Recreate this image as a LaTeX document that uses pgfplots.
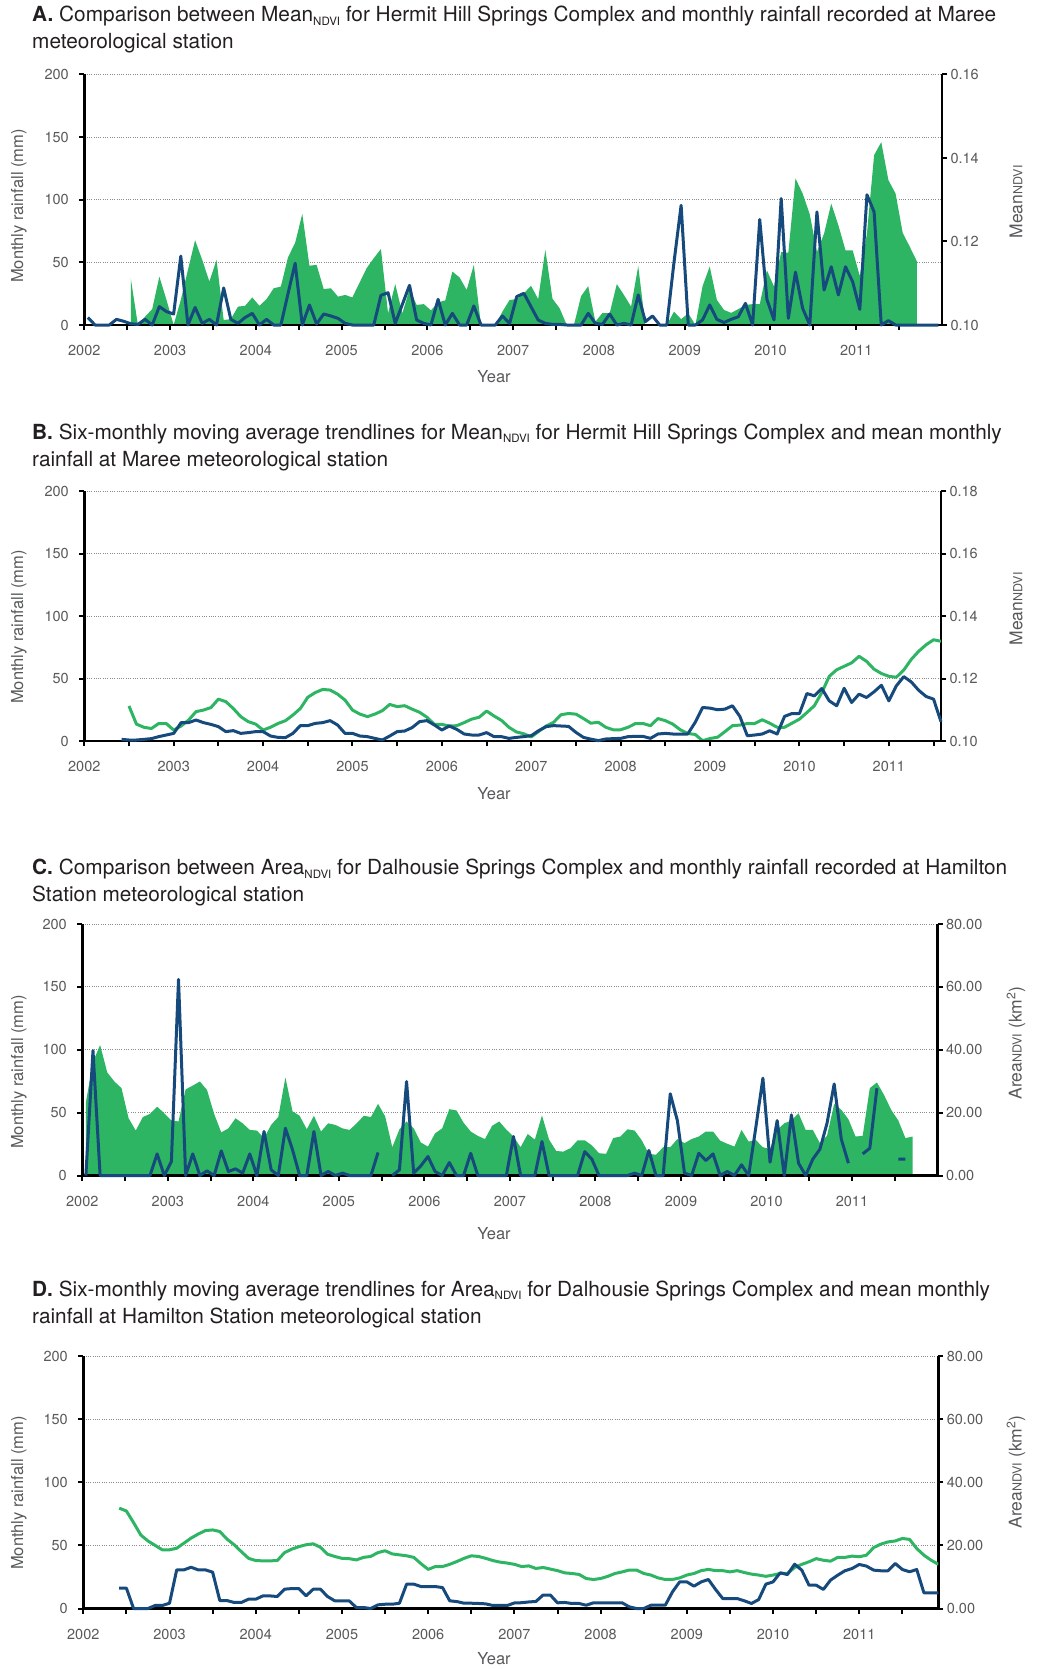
\documentclass[border=0pt]{standalone}
\usepackage{pgfplots}
\pgfplotsset{compat=1.18}
\usepackage{pgfplotstable}
\usepackage{fontspec}
\setmainfont{TeX Gyre Heros}
\definecolor{ngreen}{HTML}{2DB563}
\definecolor{nblue}{HTML}{174A7C}
\definecolor{tgrey}{HTML}{58595B}
\definecolor{ttitle}{HTML}{231F20}
\newcommand\tickfont{\fontsize{14.5}{14.5}\selectfont}
\newcommand\labfont{\fontsize{16.5}{16.5}\selectfont}
\newcommand\rlabfont{\fontsize{17.5}{17.5}\selectfont}
\newcommand\titlefont{\fontsize{20.8}{20.8}\selectfont}
\newcommand\sub[1]{\raisebox{-0.35ex}{\fontsize{11.5}{11.5}\selectfont #1}}
\newcommand\smallndvi{{\fontsize{12.5}{12.5}\selectfont NDVI}}

\pgfplotstableread[row sep=\\]{i v\\0 6\\1 0\\2 0\\3 0\\4 4.5\\5 3\\6 1\\7 0.5\\8 4.5\\9 0\\10 14.7\\11 10.7\\12 8.8\\13 55\\14 0\\15 14\\16 1.3\\17 4.5\\18 0\\19 29.6\\20 4.5\\21 1.3\\22 6\\23 9.3\\24 0\\25 4.5\\26 0\\27 0\\28 25\\29 49.3\\30 0\\31 16\\32 0.8\\33 8.8\\34 7.2\\35 5.3\\36 1.3\\37 0\\38 0\\39 0\\40 0\\41 23.7\\42 25.8\\43 1.3\\44 16.5\\45 31.7\\46 4\\47 1.3\\48 0\\49 20.5\\50 0\\51 9.3\\52 0\\53 0\\54 15.2\\55 0\\56 0\\57 0\\58 7.2\\59 1.3\\60 22.7\\61 25.3\\62 14.6\\63 4\\64 1.3\\65 0.5\\66 0.5\\67 0\\68 0\\69 0\\70 9.3\\71 1.3\\72 0.5\\73 8.8\\74 0\\75 1.3\\76 0\\77 24\\78 2.7\\79 7.2\\80 0\\81 0\\82 50\\83 95.6\\84 0\\85 0\\86 4\\87 16\\88 4.5\\89 2\\90 4.5\\91 6.6\\92 17.3\\93 0\\94 84.2\\95 20.5\\96 4\\97 101\\98 5.3\\99 42.2\\100 13.3\\101 0\\102 90.3\\103 27.9\\104 46.5\\105 24\\106 46.5\\107 34.5\\108 12.5\\109 104\\110 90.3\\111 0\\112 3.5\\113 0\\114 0\\115 0\\116 0\\117 0\\118 0\\119 0\\}\Arain

\pgfplotstableread[row sep=\\]{i v\\6 0.1112\\7 0.1000\\8 0.1020\\9 0.1038\\10 0.1116\\11 0.1060\\12 0.1000\\13 0.1060\\14 0.1132\\15 0.1203\\16 0.1156\\17 0.1104\\18 0.1156\\19 0.1012\\20 0.1014\\21 0.1044\\22 0.1046\\23 0.1066\\24 0.1046\\25 0.1062\\26 0.1088\\27 0.1092\\28 0.1162\\29 0.1197\\30 0.1266\\31 0.1142\\32 0.1144\\33 0.1086\\34 0.1088\\35 0.1068\\36 0.1072\\37 0.1066\\38 0.1101\\39 0.1136\\40 0.1160\\41 0.1182\\42 0.1028\\43 0.1098\\44 0.1028\\45 0.1086\\46 0.1048\\47 0.1050\\48 0.1035\\49 0.1054\\50 0.1059\\51 0.1128\\52 0.1114\\53 0.1084\\54 0.1144\\55 0.1000\\56 0.1000\\57 0.1000\\58 0.1032\\59 0.1060\\60 0.1062\\61 0.1076\\62 0.1094\\63 0.1062\\64 0.1180\\65 0.1063\\66 0.1040\\67 0.1000\\68 0.1000\\69 0.1069\\70 0.1093\\71 0.1008\\72 0.1029\\73 0.1028\\74 0.1098\\75 0.1072\\76 0.1044\\77 0.1141\\78 0.1000\\79 0.1000\\80 0.1000\\81 0.1000\\82 0.1032\\83 0.1014\\84 0.1028\\85 0.1000\\86 0.1093\\87 0.1140\\88 0.1060\\89 0.1036\\90 0.1029\\91 0.1038\\92 0.1048\\93 0.1050\\94 0.1050\\95 0.1131\\96 0.1092\\97 0.1175\\98 0.1173\\99 0.1351\\100 0.1315\\101 0.1265\\102 0.1175\\103 0.1219\\104 0.1291\\105 0.1239\\106 0.1179\\107 0.1179\\108 0.1117\\109 0.1219\\110 0.1407\\111 0.1438\\112 0.1347\\113 0.1315\\114 0.1221\\115 0.1187\\116 0.1152\\}\Agreen

\pgfplotstableread[row sep=\\]{i v\\5 1.3\\6 0.8\\7 0.8\\8 1.3\\9 1.9\\10 3.5\\11 4.8\\12 6.1\\13 14.7\\14 14.7\\15 16.8\\16 14.7\\17 13.3\\18 11.5\\19 7.5\\20 8.3\\21 6.1\\22 6.7\\23 7.5\\24 7.5\\25 4\\26 2.9\\27 2.7\\28 6.1\\29 12.3\\30 12.3\\31 14.1\\32 14.7\\33 16.3\\34 12.8\\35 6.1\\36 6.1\\37 4\\38 3.5\\39 2.1\\40 0.8\\41 4\\42 7.5\\43 8\\44 10.7\\45 15.5\\46 16.3\\47 12.8\\48 8.8\\49 12\\50 9.3\\51 5.6\\52 4.8\\53 4.8\\54 6.7\\55 3.5\\56 3.5\\57 2.1\\58 2.9\\59 3.5\\60 4.3\\61 8.3\\62 11.5\\63 12.3\\64 12\\65 11.7\\66 6.9\\67 2.9\\68 1.5\\69 0.3\\70 1.6\\71 1.9\\72 2.1\\73 3.5\\74 3.7\\75 3.7\\76 2.1\\77 5.6\\78 6.1\\79 5.6\\80 5.6\\81 5.6\\82 14.9\\83 26.8\\84 26.3\\85 25\\86 25.5\\87 28.2\\88 19.7\\89 4.2\\90 4.8\\91 5.6\\92 8.2\\93 5.6\\94 19.7\\95 22\\96 22\\97 38\\98 36.1\\99 42\\100 32.1\\101 28.2\\102 42.2\\103 30.8\\104 37.5\\105 34.8\\106 39.3\\107 44.6\\108 32.1\\109 44.1\\110 51.5\\111 47.3\\112 40.6\\113 35.6\\114 33.5\\115 15.4\\}\Brain

\pgfplotstableread[row sep=\\]{i v\\6 0.1112\\7 0.1054\\8 0.1044\\9 0.1040\\10 0.1056\\11 0.1056\\12 0.1035\\13 0.1048\\14 0.1067\\15 0.1094\\16 0.1099\\17 0.1107\\18 0.1134\\19 0.1126\\20 0.1104\\21 0.1078\\22 0.1062\\23 0.1054\\24 0.1035\\25 0.1044\\26 0.1056\\27 0.1065\\28 0.1083\\29 0.1104\\30 0.1140\\31 0.1155\\32 0.1165\\33 0.1163\\34 0.1150\\35 0.1131\\36 0.1099\\37 0.1086\\38 0.1078\\39 0.1086\\40 0.1097\\41 0.1117\\42 0.1110\\43 0.1113\\44 0.1102\\45 0.1092\\46 0.1076\\47 0.1053\\48 0.1053\\49 0.1048\\50 0.1049\\51 0.1059\\52 0.1070\\53 0.1076\\54 0.1096\\55 0.1080\\56 0.1066\\57 0.1044\\58 0.1029\\59 0.1023\\60 0.1013\\61 0.1031\\62 0.1048\\63 0.1060\\64 0.1084\\65 0.1088\\66 0.1086\\67 0.1072\\68 0.1057\\69 0.1060\\70 0.1044\\71 0.1036\\72 0.1036\\73 0.1044\\74 0.1056\\75 0.1056\\76 0.1049\\77 0.1072\\78 0.1065\\79 0.1054\\80 0.1036\\81 0.1024\\82 0.1021\\83 0.1001\\84 0.1008\\85 0.1012\\86 0.1030\\87 0.1049\\88 0.1051\\89 0.1056\\90 0.1056\\91 0.1068\\92 0.1057\\93 0.1044\\94 0.1044\\95 0.1057\\96 0.1070\\97 0.1091\\98 0.1113\\99 0.1155\\100 0.1207\\101 0.1228\\102 0.1239\\103 0.1250\\104 0.1271\\105 0.1255\\106 0.1230\\107 0.1216\\108 0.1207\\109 0.1204\\110 0.1227\\111 0.1261\\112 0.1287\\113 0.1308\\114 0.1324\\115 0.1319\\}\Bgreen

\pgfplotstableread[row sep=\\]{i v\\0 0\\1 99.3\\2 0\\3 0\\4 0\\5 0\\6 0\\7 0\\8 0\\9 0\\10 17.2\\11 0\\12 11.1\\13 156\\14 0\\15 17.2\\16 0\\17 3.7\\18 0\\19 19.6\\20 3.2\\21 5.3\\22 1.9\\23 17.2\\24 0\\25 35\\26 4.5\\27 0\\28 37.6\\29 20.4\\30 0\\31 0\\32 35\\33 0\\34 3.2\\35 0\\36 1.9\\37 0\\38 0\\39 0\\40 0\\41 18.3\\42 nan\\43 0\\44 4.5\\45 74.7\\46 1.9\\47 7.7\\48 15.1\\49 3.2\\50 0\\51 10.3\\52 0\\53 0\\54 17.7\\55 0\\56 0\\57 0\\58 0\\59 0\\60 31\\61 0\\62 0\\63 0\\64 27\\65 0\\66 0\\67 0\\68 0\\69 0\\70 19\\71 13\\72 0\\73 0\\74 0\\75 0\\76 0\\77 1.9\\78 0\\79 19.9\\80 0\\81 0\\82 65\\83 43.7\\84 1.9\\85 0\\86 17.7\\87 11.9\\88 17.2\\89 0\\90 3.2\\91 0\\92 8.5\\93 0\\94 38\\95 77.4\\96 10.6\\97 43.7\\98 0\\99 48.2\\100 9.8\\101 0\\102 13\\103 20.9\\104 41.6\\105 72.8\\106 28.9\\107 9.8\\108 nan\\109 17.2\\110 21.7\\111 69.4\\112 nan\\113 nan\\114 13\\115 13\\}\Crain

\pgfplotstableread[row sep=\\]{i v\\0 23.2\\1 36.2\\2 41.5\\3 32.8\\4 29.9\\5 27.8\\6 18.2\\7 14.3\\8 18.6\\9 19.6\\10 21.9\\11 19.8\\12 17.5\\13 17.2\\14 27.4\\15 28.6\\16 29.9\\17 27.2\\18 19.6\\19 13.7\\20 15.0\\21 18.2\\22 16.6\\23 14.5\\24 14.3\\25 11.9\\26 16.1\\27 18.6\\28 31.2\\29 20.4\\30 19.0\\31 14.7\\32 19.0\\33 14.0\\34 16.6\\35 16.1\\36 15.0\\37 14.5\\38 16.6\\39 19.0\\40 18.6\\41 22.8\\42 18.8\\43 9.0\\44 14.7\\45 17.2\\46 15.0\\47 10.5\\48 9.2\\49 13.4\\50 15.0\\51 21.1\\52 20.7\\53 16.8\\54 14.0\\55 12.6\\56 11.6\\57 15.8\\58 17.2\\59 14.6\\60 12.4\\61 9.0\\62 13.2\\63 11.4\\64 19.1\\65 11.4\\66 7.8\\67 7.6\\68 8.7\\69 11.2\\70 11.2\\71 9.6\\72 7.1\\73 6.9\\74 11.9\\75 12.4\\76 14.7\\77 14.3\\78 11.2\\79 6.9\\80 6.6\\81 9.0\\82 9.0\\83 11.6\\84 10.3\\85 11.6\\86 12.4\\87 14.0\\88 14.0\\89 11.1\\90 10.1\\91 9.2\\92 14.5\\93 10.8\\94 11.3\\95 9.0\\96 8.4\\97 14.5\\98 16.6\\99 17.5\\100 19.8\\101 14.5\\102 14.5\\103 10.3\\104 12.6\\105 22.8\\106 20.9\\107 17.9\\108 12.4\\109 12.6\\110 27.8\\111 29.6\\112 25.6\\113 20.9\\114 17.5\\115 11.9\\116 12.4\\}\Cgreen

\pgfplotstableread[row sep=\\]{i v\\5 16.1\\6 16.1\\7 0\\8 0\\9 0\\10 2.4\\11 2.4\\12 4.2\\13 30.6\\14 30.6\\15 32.7\\16 30.6\\17 30.6\\18 28.8\\19 6.3\\20 6.3\\21 4.8\\22 4.8\\23 7.4\\24 7.4\\25 10\\26 10\\27 9.5\\28 15.3\\29 15.8\\30 15.8\\31 10\\32 15.3\\33 15.3\\34 9.5\\35 6.1\\36 6.1\\37 6.1\\38 0.8\\39 0.8\\40 0\\41 2.9\\42 3.4\\43 3.4\\44 4.2\\45 19.3\\46 19.3\\47 17.4\\48 17.4\\49 17.4\\50 16.6\\51 6.1\\52 5.5\\53 4.2\\54 4.2\\55 4\\56 3.7\\57 2.4\\58 2.4\\59 2.4\\60 4.4\\61 4.6\\62 5.2\\63 5.6\\64 10.7\\65 10.7\\66 4.5\\67 4.8\\68 4\\69 4\\70 2.6\\71 4.5\\72 4.5\\73 4.5\\74 4.5\\75 4.5\\76 1.3\\77 0\\78 0\\79 2.6\\80 2.6\\81 2.6\\82 13.2\\83 21.1\\84 21.1\\85 17.7\\86 21.1\\87 23\\88 15.1\\89 7.9\\90 7.9\\91 7.9\\92 6.1\\93 4\\94 7.1\\95 19.3\\96 21.1\\97 28.3\\98 26.9\\99 35.1\\100 30.4\\101 18.5\\102 18.5\\103 15.1\\104 22.5\\105 26.4\\106 29.9\\107 31.7\\108 34.9\\109 33.6\\110 30.4\\111 29.9\\112 29.9\\113 35.7\\114 30.9\\115 29.1\\116 30.9\\117 12.4\\118 12.4\\119 12.4\\}\Drain

\pgfplotstableread[row sep=\\]{i v\\5 31.8\\6 30.9\\7 27.2\\8 23.3\\9 21.4\\10 20.0\\11 18.6\\12 18.6\\13 19.1\\14 20.7\\15 22.3\\16 23.6\\17 24.7\\18 24.9\\19 24.4\\20 22.0\\21 20.2\\22 18.0\\23 15.9\\24 15.2\\25 15.1\\26 15.1\\27 15.2\\28 17.7\\29 18.8\\30 19.6\\31 20.2\\32 20.5\\33 19.4\\34 17.2\\35 16.5\\36 15.9\\37 15.8\\38 15.4\\39 16.2\\40 16.5\\41 17.7\\42 18.3\\43 17.3\\44 17.0\\45 16.7\\46 16.2\\47 14.2\\48 12.4\\49 13.3\\50 13.3\\51 14.0\\52 14.9\\53 15.9\\54 16.7\\55 16.5\\56 15.9\\57 15.2\\58 14.7\\59 14.4\\60 14.0\\61 13.3\\62 13.5\\63 12.7\\64 13.0\\65 12.5\\66 12.0\\67 11.3\\68 11.1\\69 10.8\\70 9.5\\71 9.2\\72 9.5\\73 10.2\\74 11.1\\75 11.6\\76 12.2\\77 12.2\\78 11.1\\79 10.6\\80 9.7\\81 9.2\\82 9.2\\83 9.7\\84 10.6\\85 11.1\\86 12.0\\87 12.4\\88 12.0\\89 12.0\\90 11.6\\91 12.0\\92 11.4\\93 10.9\\94 10.6\\95 10.2\\96 10.6\\97 11.1\\98 11.1\\99 13.0\\100 14.0\\101 14.8\\102 15.8\\103 15.3\\104 15.0\\105 16.2\\106 16.2\\107 16.6\\108 16.4\\109 16.9\\110 19.3\\111 20.4\\112 21.1\\113 21.4\\114 22.2\\115 21.9\\116 19.0\\117 16.9\\118 15.3\\119 14.0\\}\Dgreen

\pgfplotsset{
  common/.style={anchor=south west, scale only axis,
    tick align=outside, major tick length=5pt,
    tick style={black, line width=2pt},
    axis line style={black, line width=2.5pt, -},
    ticklabel style={font=\tickfont, text=tgrey}},
  gridsty/.style={grid style={black!45, dash pattern=on 1pt off 1.3pt, line width=0.9pt}},
  rightax/.style={common, axis x line=none, axis y line*=right, xtick=\empty,
    ymajorgrids, gridsty, clip=true},
  leftax/.style={common, axis x line*=bottom, axis y line*=left,
    ymin=0, ymax=200, ytick={0,50,100,150,200}, yticklabels={0,50,100,150,200},
    clip=false,
    yticklabel style={xshift=-7pt},
    xticklabel style={yshift=-12pt},
    xticklabels={2002,,2003,,2004,,2005,,2006,,2007,,2008,,2009,,2010,,2011,}},
  blueline/.style={nblue, line width=3pt, line join=round},
  greenline/.style={ngreen, line width=3pt, line join=round},
}

\begin{document}
\begin{tikzpicture}
\path[use as bounding box] (0pt,0pt) rectangle (1045pt,-1669pt);

% ---------- Panel A ----------
\begin{axis}[rightax, at={(84.3pt,-325pt)}, width=857.7pt, height=250.5pt,
  xmin=-0.5, xmax=119.5, ymin=0.10, ymax=0.16, ymajorgrids=false,
  ytick={0.10,0.12,0.14,0.16}, yticklabels={0.10,0.12,0.14,0.16},
  extra y ticks={0.115,0.13,0.145,0.16}, extra y tick labels={},
  extra y tick style={major tick length=0pt, ymajorgrids=true, gridsty}]
\addplot[fill=ngreen, draw=none] table[x=i,y=v]{\Agreen} \closedcycle;
\end{axis}
\begin{axis}[leftax, at={(84.3pt,-325pt)}, width=857.7pt, height=250.5pt,
  xmin=-0.5, xmax=119.5, xtick={-0.5,5.5,...,113.5}]
\addplot[blueline] table[x=i,y=v]{\Arain};
\end{axis}

% ---------- Panel B ----------
\begin{axis}[rightax, at={(84.3pt,-741pt)}, width=856.7pt, height=250pt,
  xmin=0, xmax=115, ymin=0.10, ymax=0.18,
  ytick={0.10,0.12,0.14,0.16,0.18}, yticklabels={0.10,0.12,0.14,0.16,0.18}]
\addplot[greenline] table[x=i,y=v]{\Bgreen};
\end{axis}
\begin{axis}[leftax, at={(84.3pt,-741pt)}, width=856.7pt, height=250pt,
  xmin=0, xmax=115, xtick={0,6,...,114}]
\addplot[blueline] table[x=i,y=v]{\Brain};
\end{axis}

% ---------- Panel C ----------
\begin{axis}[rightax, at={(82.3pt,-1175.5pt)}, width=855.2pt, height=251.5pt,
  xmin=-0.5, xmax=119.5, ymin=0, ymax=80,
  ytick={0,20,40,60,80}, yticklabels={0.00,20.00,40.00,60.00,80.00}]
\addplot[fill=ngreen, draw=none] table[x=i,y=v]{\Cgreen} \closedcycle;
\end{axis}
\begin{axis}[leftax, at={(82.3pt,-1175.5pt)}, width=855.2pt, height=251.5pt,
  xmin=-0.5, xmax=119.5, xtick={-0.5,5.5,...,113.5}, unbounded coords=jump]
\addplot[blueline] table[x=i,y=v]{\Crain};
\end{axis}

% ---------- Panel D ----------
\begin{axis}[rightax, at={(83.3pt,-1608.5pt)}, width=855pt, height=252.5pt,
  xmin=0, xmax=119, ymin=0, ymax=80,
  ytick={0,20,40,60,80}, yticklabels={0.00,20.00,40.00,60.00,80.00}]
\addplot[greenline] table[x=i,y=v]{\Dgreen};
\end{axis}
\begin{axis}[leftax, at={(83.3pt,-1608.5pt)}, width=855pt, height=252.5pt,
  xmin=0, xmax=119, xtick={0,6,...,114}]
\addplot[blueline] table[x=i,y=v]{\Drain};
\end{axis}

% ---------- Titles ----------
\begin{scope}[every node/.style={anchor=base west, inner sep=0pt, text=ttitle, font=\titlefont}]
\node at (32pt,-22pt) {\textbf{A.} Comparison between Mean\sub{NDVI} for Hermit Hill Springs Complex and monthly rainfall recorded at Maree};
\node at (32pt,-49pt) {meteorological station};
\node at (32pt,-439pt) {\textbf{B.} Six-monthly moving average trendlines for Mean\sub{NDVI} for Hermit Hill Springs Complex and mean monthly};
\node at (32pt,-466.5pt) {rainfall at Maree meteorological station};
\node at (32pt,-874.5pt) {\textbf{C.} Comparison between Area\sub{NDVI} for Dalhousie Springs Complex and monthly rainfall recorded at Hamilton};
\node at (32pt,-901.5pt) {Station meteorological station};
\node at (32pt,-1296pt) {\textbf{D.} Six-monthly moving average trendlines for Area\sub{NDVI} for Dalhousie Springs Complex and mean monthly};
\node at (32pt,-1323pt) {rainfall at Hamilton Station meteorological station};
\end{scope}

% ---------- Axis labels ----------
\begin{scope}[every node/.style={inner sep=0pt, text=tgrey, font=\labfont}]
\node at (494pt,-377pt) {Year};
\node at (494pt,-794pt) {Year};
\node at (494pt,-1234pt) {Year};
\node at (494pt,-1659pt) {Year};
\node[rotate=90] at (19pt,-206pt) {Monthly rainfall (mm)};
\node[rotate=90] at (19pt,-627pt) {Monthly rainfall (mm)};
\node[rotate=90] at (19pt,-1072pt) {Monthly rainfall (mm)};
\node[rotate=90] at (19pt,-1493pt) {Monthly rainfall (mm)};
\node[rotate=90, font=\rlabfont] at (1016pt,-202pt) {Mean\smallndvi};
\node[rotate=90, font=\rlabfont] at (1016pt,-609pt) {Mean\smallndvi};
\node[rotate=90, font=\rlabfont] at (1016pt,-1043pt) {Area\smallndvi{} (km\textsuperscript{2})};
\node[rotate=90, font=\rlabfont] at (1016pt,-1472pt) {Area\smallndvi{} (km\textsuperscript{2})};
\end{scope}
\end{tikzpicture}
\end{document}
